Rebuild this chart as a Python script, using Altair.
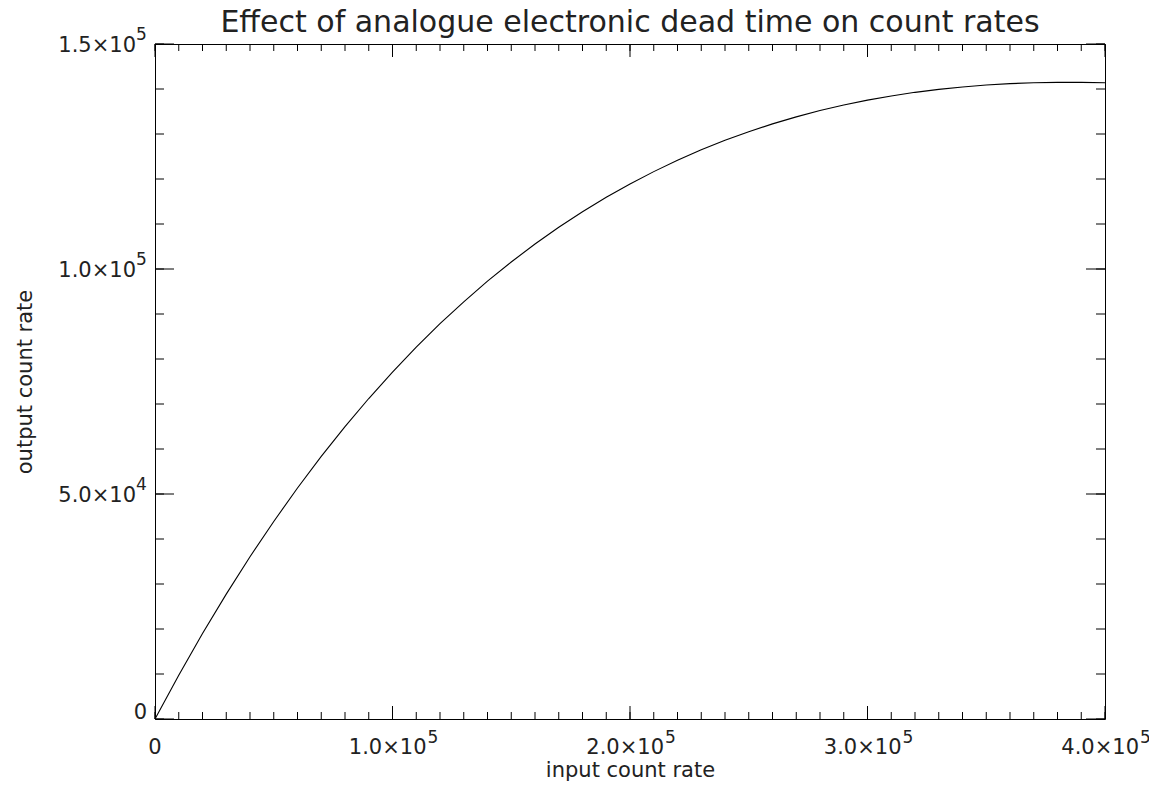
import altair as alt
import pandas as pd

# data
input_rate = [0, 10000, 20000, 30000, 40000, 50000, 60000, 70000, 80000, 90000,
              100000, 110000, 120000, 130000, 140000, 150000, 160000, 170000, 180000, 190000,
              200000, 210000, 220000, 230000, 240000, 250000, 260000, 270000, 280000, 290000,
              300000, 310000, 320000, 330000, 340000, 350000, 360000, 370000, 380000, 390000, 400000]
output_rate = [0, 9740, 18990, 27750, 36050, 43900, 51330, 58350, 64980, 71220,
               77100, 82640, 87840, 92710, 97290, 101560, 105550, 109270, 112720, 115940,
               118900, 121640, 124170, 126480, 128590, 130510, 132250, 133810, 135210, 136440,
               137520, 138460, 139260, 139920, 140460, 140880, 141190, 141390, 141480, 141480, 141380]

x_major = [0, 100000, 200000, 300000, 400000]
x_minor = [i * 10000 for i in range(41)]
y_major = [0, 50000, 100000, 150000]
y_minor = [i * 10000 for i in range(16)]

# tick labels: mantissa and exponent (the zero label has no exponent)
x_lab_vals = [100000, 200000, 300000, 400000]
x_lab_mant = ["1.0×10", "2.0×10", "3.0×10", "4.0×10"]
x_lab_exp = ["5", "5", "5", "5"]
y_lab_vals = [50000, 100000, 150000]
y_lab_mant = ["5.0×10", "1.0×10", "1.5×10"]
y_lab_exp = ["4", "5", "5"]
zero_label = ["0"]

TITLE = ["Effect of analogue electronic dead time on count rates"]
X_TITLE = "input count rate"
Y_TITLE = "output count rate"

FONT = "DejaVu Sans"
TXT = "#222222"
W, H = 950, 675
LAB = 21
EXP = 17

df = pd.DataFrame({"x": input_rate, "y": output_rate})
xs = alt.Scale(domain=[0, 400000], nice=False, zero=False)
ys = alt.Scale(domain=[0, 150000], nice=False, zero=False)

x_axis = alt.Axis(
    values=x_major, labels=False, ticks=False, domain=False, grid=False,
    title=X_TITLE, titleFont=FONT, titleFontSize=21, titleFontWeight="normal",
    titleColor=TXT, titleY=51, titleBaseline="middle")
y_axis = alt.Axis(
    values=y_major, labels=False, ticks=False, domain=False, grid=False,
    title=Y_TITLE, titleFont=FONT, titleFontSize=21, titleFontWeight="normal",
    titleColor=TXT, titleX=-130, titleY=H / 2, titleAngle=-90,
    titleBaseline="middle", titleAlign="center")

X = lambda: alt.X("x:Q", scale=xs, axis=x_axis)
Y = lambda: alt.Y("y:Q", scale=ys, axis=y_axis)

line = alt.Chart(df).mark_line(color="black", strokeWidth=1.1).encode(x=X(), y=Y())

def xticks(vals, length):
    d = pd.DataFrame({"x": vals})
    bottom = alt.Chart(d).mark_rule(color="black", strokeWidth=1).encode(
        x=X(), y=alt.value(H), y2=alt.value(H - length))
    top = alt.Chart(d).mark_rule(color="black", strokeWidth=1).encode(
        x=X(), y=alt.value(0), y2=alt.value(length))
    return [bottom, top]

def yticks(vals, length):
    d = pd.DataFrame({"y": vals})
    left = alt.Chart(d).mark_rule(color="black", strokeWidth=1).encode(
        y=Y(), x=alt.value(0), x2=alt.value(length))
    right = alt.Chart(d).mark_rule(color="black", strokeWidth=1).encode(
        y=Y(), x=alt.value(W), x2=alt.value(W - length))
    return [left, right]

# x tick labels
xl = pd.DataFrame({"x": x_lab_vals, "m": x_lab_mant, "e": x_lab_exp})
x_mant = alt.Chart(xl).mark_text(font=FONT, fontSize=LAB, color=TXT, align="right",
                                 baseline="middle", dx=34).encode(
    x=X(), y=alt.value(H + 29), text="m:N")
x_exp = alt.Chart(xl).mark_text(font=FONT, fontSize=EXP, color=TXT, align="left",
                                baseline="middle", dx=35).encode(
    x=X(), y=alt.value(H + 19), text="e:N")
x_zero = alt.Chart(pd.DataFrame({"x": [0], "t": zero_label})).mark_text(
    font=FONT, fontSize=LAB, color=TXT, align="center", baseline="middle").encode(
    x=X(), y=alt.value(H + 29), text="t:N")

# y tick labels
yl = pd.DataFrame({"y": y_lab_vals, "m": y_lab_mant, "e": y_lab_exp})
y_mant = alt.Chart(yl).mark_text(font=FONT, fontSize=LAB, color=TXT, align="right",
                                 baseline="middle", dy=2).encode(
    y=Y(), x=alt.value(-19), text="m:N")
y_exp = alt.Chart(yl).mark_text(font=FONT, fontSize=EXP, color=TXT, align="left",
                                baseline="middle", dy=-9).encode(
    y=Y(), x=alt.value(-19), text="e:N")
y_zero = alt.Chart(pd.DataFrame({"y": [0], "t": zero_label})).mark_text(
    font=FONT, fontSize=LAB, color=TXT, align="right", baseline="middle", dy=-6).encode(
    y=Y(), x=alt.value(-8), text="t:N")

# chart title
title = alt.Chart(pd.DataFrame({"t": TITLE})).mark_text(
    font=FONT, fontSize=30, color=TXT, align="center", baseline="alphabetic").encode(
    x=alt.value(W / 2), y=alt.value(-12), text="t:N")

layers = ([line] + xticks(x_minor, 7) + xticks(x_major, 13) + yticks(y_minor, 9)
          + yticks(y_major, 19) + [x_mant, x_exp, x_zero, y_mant, y_exp, y_zero, title])

chart = alt.layer(*layers).properties(
    width=W, height=H,
    background="white",
    autosize=alt.AutoSizeParams(type="none"),
    padding={"left": 147, "top": 36, "right": 44, "bottom": 63},
).configure_view(stroke="black", strokeWidth=1)

chart.save("out.html", embed_options={"renderer": "svg", "actions": False})
